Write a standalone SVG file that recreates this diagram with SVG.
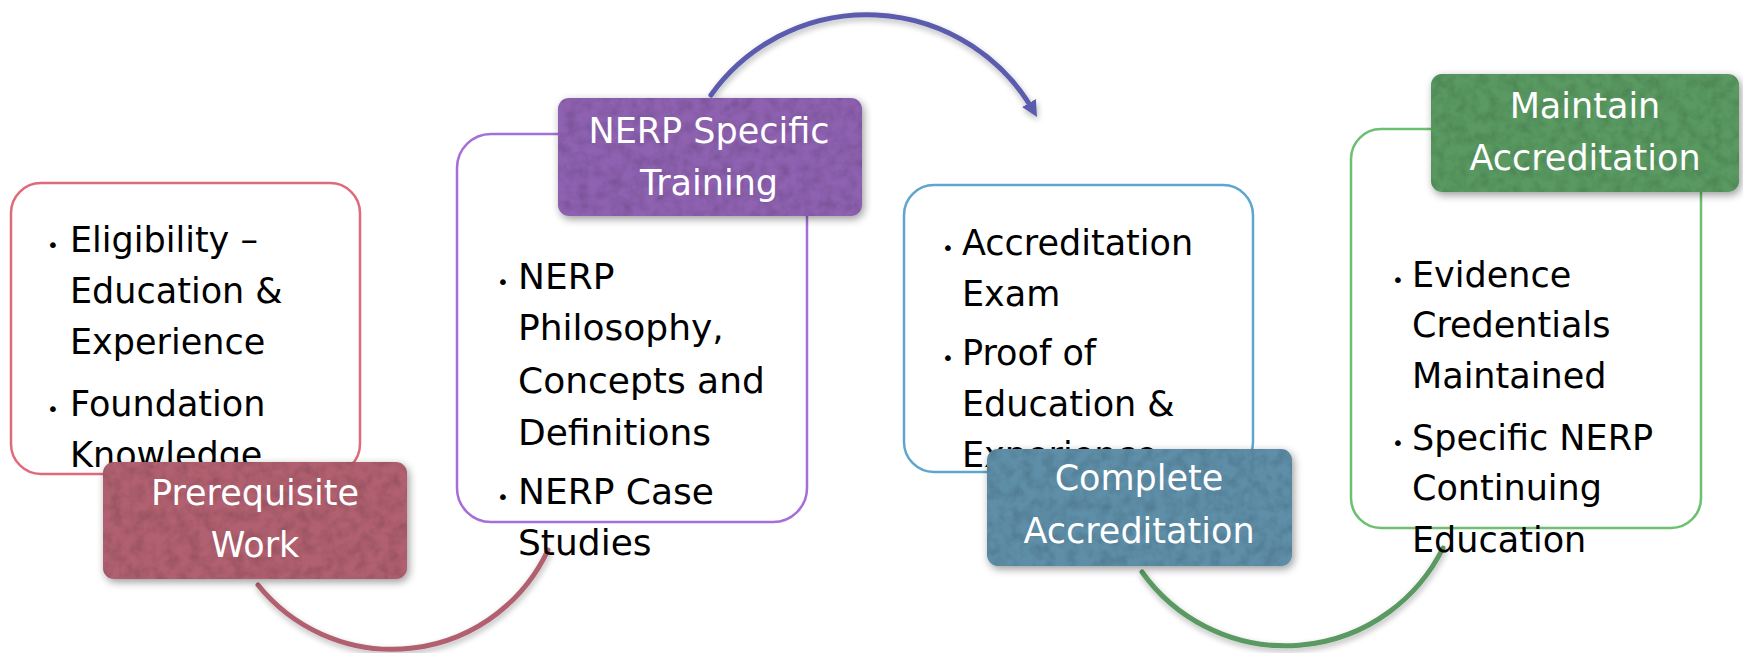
<svg xmlns="http://www.w3.org/2000/svg" width="1743" height="653" viewBox="0 0 1743 653">
<defs>
<style>
.body{font-family:"DejaVu Sans","Verdana",sans-serif;font-size:35px;fill:#000;}
.body2{font-family:"DejaVu Sans","Verdana",sans-serif;font-size:36px;fill:#000;}
.bul{font-family:"DejaVu Sans",sans-serif;font-size:20px;fill:#000;text-anchor:middle;}
.lab{font-family:"DejaVu Sans","Verdana",sans-serif;font-size:35px;fill:#fff;text-anchor:middle;}
.frame{fill:#fff;stroke-width:2.5;}
.arc{fill:none;stroke-width:5;stroke-linecap:round;}
</style>
<filter id="tex" x="-10%" y="-15%" width="125%" height="140%">
<feTurbulence type="fractalNoise" baseFrequency="0.09" numOctaves="3" seed="7" result="n"/>
<feColorMatrix in="n" type="matrix" values="0 0 0 0 0  0 0 0 0 0  0 0 0 0 0  0 0 0 0.5 -0.18" result="na"/>
<feComposite in="na" in2="SourceAlpha" operator="in" result="nt"/>
<feGaussianBlur in="SourceAlpha" stdDeviation="4"/>
<feOffset dx="2" dy="3" result="b"/>
<feComponentTransfer in="b" result="sh"><feFuncA type="linear" slope="0.4"/></feComponentTransfer>
<feMerge><feMergeNode in="sh"/><feMergeNode in="SourceGraphic"/><feMergeNode in="nt"/></feMerge>
</filter>
<filter id="arcsh" x="-10%" y="-20%" width="120%" height="150%">
<feGaussianBlur in="SourceAlpha" stdDeviation="3"/>
<feOffset dx="1" dy="3" result="b"/>
<feComponentTransfer in="b" result="sh"><feFuncA type="linear" slope="0.3"/></feComponentTransfer>
<feMerge><feMergeNode in="sh"/><feMergeNode in="SourceGraphic"/></feMerge>
</filter>
<marker id="ah" viewBox="0 0 10 10" refX="5" refY="5" markerWidth="3.2" markerHeight="3.2" orient="auto" markerUnits="strokeWidth">
<path d="M0,0 L10,5 L0,10 z" fill="#5c5cae"/>
</marker>
</defs>
<rect width="1743" height="653" fill="#fff"/>
<g id="connectors">
<path class="arc" d="M258,585 A172,172 0 0 0 548,550" stroke="#b0606e" filter="url(#arcsh)"/>
<path class="arc" d="M711,95 A192,192 0 0 1 1033,110" stroke="#5c5cae" marker-end="url(#ah)" filter="url(#arcsh)"/>
<path class="arc" d="M1142,572 A176,176 0 0 0 1443,548" stroke="#5a9a62" filter="url(#arcsh)"/>
</g>
<g id="prerequisite-items">
<rect class="frame" x="11" y="183" width="349" height="291" rx="30" stroke="#e06a7a"/>
<text class="bul" x="53" y="252">•</text>
<text class="body" x="70" y="252">Eligibility –</text>
<text class="body" x="70" y="303">Education &amp;</text>
<text class="body" x="70" y="354">Experience</text>
<text class="bul" x="53" y="416">•</text>
<text class="body" x="70" y="416">Foundation</text>
<text class="body" x="70" y="467">Knowledge</text>
</g>
<g id="training-items">
<rect class="frame" x="457" y="134" width="350" height="388" rx="34" stroke="#a66ed8"/>
<text class="bul" x="503" y="289">•</text>
<text class="body2" x="518" y="289">NERP</text>
<text class="body2" x="518" y="340">Philosophy,</text>
<text class="body2" x="518" y="393">Concepts and</text>
<text class="body2" x="518" y="445">Definitions</text>
<text class="bul" x="503" y="504">•</text>
<text class="body2" x="518" y="504">NERP Case</text>
<text class="body2" x="518" y="555">Studies</text>
</g>
<g id="complete-items">
<rect class="frame" x="904" y="185" width="349" height="287" rx="30" stroke="#5fa6cc"/>
<text class="bul" x="948" y="255">•</text>
<text class="body" x="962" y="255">Accreditation</text>
<text class="body" x="962" y="306">Exam</text>
<text class="bul" x="948" y="365">•</text>
<text class="body" x="962" y="365">Proof of</text>
<text class="body" x="962" y="416">Education &amp;</text>
<text class="body" x="962" y="467">Experience</text>
</g>
<g id="maintain-items">
<rect class="frame" x="1351" y="129" width="350" height="399" rx="30" stroke="#6cc070"/>
<text class="bul" x="1398" y="287">•</text>
<text class="body" x="1412" y="287">Evidence</text>
<text class="body" x="1412" y="337">Credentials</text>
<text class="body" x="1412" y="388">Maintained</text>
<text class="bul" x="1398" y="450">•</text>
<text class="body" x="1412" y="450">Specific NERP</text>
<text class="body" x="1412" y="500">Continuing</text>
<text class="body" x="1412" y="552">Education</text>
</g>
<g id="prerequisite-work">
<rect x="103" y="462" width="304" height="117" rx="11" fill="#b0616f" filter="url(#tex)"/>
<text class="lab" x="255" y="505">Prerequisite</text>
<text class="lab" x="255" y="557">Work</text>
</g>
<g id="nerp-specific-training">
<rect x="558" y="98" width="304" height="118" rx="11" fill="#8e62b0" filter="url(#tex)"/>
<text class="lab" x="709" y="143">NERP Specific</text>
<text class="lab" x="709" y="195">Training</text>
</g>
<g id="complete-accreditation">
<rect x="987" y="449" width="305" height="117" rx="11" fill="#5f8fa8" filter="url(#tex)"/>
<text class="lab" x="1139" y="490">Complete</text>
<text class="lab" x="1139" y="543">Accreditation</text>
</g>
<g id="maintain-accreditation">
<rect x="1431" y="74" width="308" height="118" rx="11" fill="#5a9a62" filter="url(#tex)"/>
<text class="lab" x="1585" y="118">Maintain</text>
<text class="lab" x="1585" y="170">Accreditation</text>
</g>
</svg>
